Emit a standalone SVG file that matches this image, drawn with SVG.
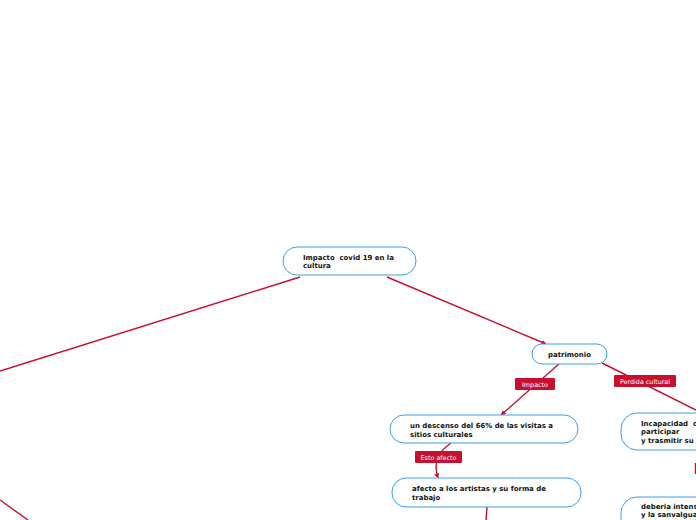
<svg xmlns="http://www.w3.org/2000/svg" width="696" height="520" viewBox="0 0 696 520">
<style>
.n{fill:#fff;stroke:#3aa0e8;stroke-width:1}
.t{font-family:"DejaVu Sans",Verdana,sans-serif;font-weight:bold;font-size:6.95px;fill:#111;white-space:pre}
.c{fill:none;stroke:#c8102e;stroke-width:1.4}
.lb{fill:#c8102e}
.lt{font-family:"DejaVu Sans",Verdana,sans-serif;font-size:6.4px;fill:#fff}
</style>
<defs>
<marker id="a" viewBox="0 0 10 10" refX="9" refY="5" markerWidth="5" markerHeight="5" orient="auto-start-reverse" markerUnits="userSpaceOnUse"><path d="M0,0 L10,5 L0,10 z" fill="#c8102e"/></marker>
</defs>
<g id="connectors">
<line class="c" x1="300" y1="277" x2="0" y2="371"/>
<line class="c" x1="0" y1="500" x2="28" y2="520"/>
<line class="c" x1="387" y1="277" x2="546" y2="344" marker-end="url(#a)"/>
<line class="c" x1="560" y1="363" x2="501" y2="415" marker-end="url(#a)"/>
<path class="c" d="M451,443 C438,452 433,462 438,478" marker-end="url(#a)"/>
<line class="c" x1="487" y1="507" x2="486" y2="520"/>
<line class="c" x1="602" y1="363" x2="696" y2="410"/>
<line class="c" x1="695.5" y1="463" x2="695.5" y2="474"/>
<g id="lbl-impacto"><rect class="lb" x="515" y="378" width="40" height="12" rx="1"/><text class="lt" x="535" y="386.5" text-anchor="middle">Impacto</text></g>
<g id="lbl-perdida"><rect class="lb" x="614" y="375" width="62" height="12" rx="1"/><text class="lt" x="645" y="383.5" text-anchor="middle">Perdida cultural</text></g>
<g id="lbl-esto"><rect class="lb" x="415" y="451" width="47" height="12" rx="1"/><text class="lt" x="438.5" y="459.5" text-anchor="middle">Esto afecto</text></g>
</g>
<g id="root"><rect class="n" x="283" y="247" width="133" height="28" rx="14"/><text class="t" x="303" y="260">Impacto  covid 19 en la</text><text class="t" x="303" y="268">cultura</text></g>
<g id="patrimonio"><rect class="n" x="532" y="344" width="75" height="20" rx="10"/><text class="t" x="569.5" y="356.5" text-anchor="middle">patrimonio</text></g>
<g id="descenso"><rect class="n" x="390" y="415" width="188" height="28" rx="14"/><text class="t" x="410" y="428">un descenso del 66% de las visitas a</text><text class="t" x="410" y="437">sitios culturales</text></g>
<g id="artistas"><rect class="n" x="392" y="478" width="189" height="29" rx="14"/><text class="t" x="412" y="491">afecto a los artistas y su forma de</text><text class="t" x="412" y="500">trabajo</text></g>
<g id="incapacidad"><rect class="n" x="621" y="413" width="120" height="37" rx="16"/><text class="t" x="641" y="426">Incapacidad  d</text><text class="t" x="641" y="434">participar</text><text class="t" x="641" y="443">y trasmitir su</text></g>
<g id="deberia"><rect class="n" x="621" y="497" width="120" height="40" rx="16"/><text class="t" x="641" y="509">deberia intens</text><text class="t" x="641" y="517">y la sanvalgua</text></g>
</svg>
